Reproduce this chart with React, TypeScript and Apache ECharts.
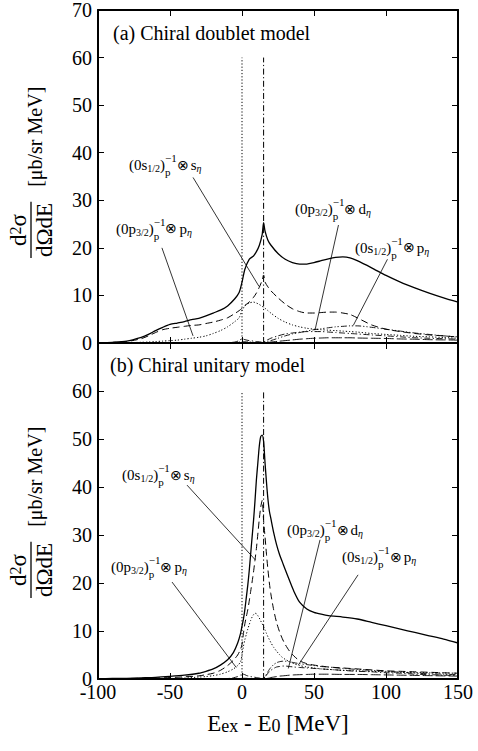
import React, { useEffect, useRef } from 'react';
import * as echarts from 'echarts';

const FONT = 'Liberation Serif';

// ---------- panel (a): chiral doublet model ----------
const EA = [-100, -90, -80, -70, -65, -60, -55, -50, -45, -40, -35, -30, -25, -20, -15, -10, -5, -2, 0, 2, 5, 8, 10, 12, 14, 15, 16, 18, 20, 25, 30, 35, 40, 45, 50, 55, 60, 65, 70, 75, 80, 90, 100, 110, 120, 130, 140, 150];
const aTotal = [0.05, 0.15, 0.4, 1.2, 1.8, 2.6, 3.3, 3.9, 4.2, 4.5, 4.9, 5.2, 5.7, 6.3, 6.9, 7.8, 9.3, 10.6, 12.8, 15.5, 17.6, 18.3, 19.2, 20.5, 22.8, 25.3, 23.5, 21.6, 20.6, 18.8, 17.6, 16.9, 16.6, 16.6, 16.9, 17.3, 17.7, 18.0, 18.1, 17.9, 17.3, 15.8, 14.2, 12.8, 11.6, 10.5, 9.5, 8.6];
const aS12sEta = [0, 0.1, 0.3, 0.9, 1.5, 2.2, 2.8, 3.1, 3.3, 3.5, 3.7, 3.8, 4.1, 4.4, 4.8, 5.3, 6.2, 6.8, 7.3, 7.9, 8.6, 9.6, 10.5, 11.7, 13.2, 14.3, 12.8, 11.8, 11.0, 9.5, 8.2, 7.2, 6.6, 6.3, 6.3, 6.4, 6.5, 6.5, 6.3, 6.0, 5.3, 3.8, 2.9, 2.4, 2.0, 1.7, 1.5, 1.25];
const aP32pEta = [0, 0, 0.05, 0.15, 0.2, 0.3, 0.4, 0.5, 0.6, 0.8, 1.0, 1.2, 1.5, 2.0, 2.6, 3.4, 4.5, 5.3, 6.8, 7.8, 8.4, 8.6, 8.4, 8.1, 7.7, 7.5, 7.3, 6.8, 6.3, 5.2, 4.4, 3.8, 3.4, 3.1, 2.9, 2.8, 2.7, 2.6, 2.5, 2.4, 2.3, 2.0, 1.8, 1.6, 1.4, 1.3, 1.15, 1.0];
const aP32dEta = [0, 0, 0, 0, 0, 0, 0, 0, 0, 0, 0, 0, 0, 0, 0.05, 0.1, 0.2, 0.5, 0.9, 0.7, 0.5, 0.4, 0.3, 0.25, 0.2, 0.2, 0.4, 0.7, 1.0, 1.5, 1.9, 2.1, 2.3, 2.4, 2.4, 2.4, 2.3, 2.2, 2.1, 2.0, 1.9, 1.7, 1.5, 1.3, 1.1, 1.0, 0.9, 0.8];
const aS12pEta = [0, 0, 0, 0, 0, 0, 0, 0, 0, 0, 0, 0, 0, 0, 0, 0.05, 0.1, 0.2, 0.3, 0.25, 0.2, 0.15, 0.15, 0.1, 0.1, 0.1, 0.2, 0.35, 0.5, 1.0, 1.5, 1.9, 2.2, 2.5, 2.8, 3.0, 3.2, 3.4, 3.5, 3.6, 3.6, 3.3, 2.9, 2.5, 2.1, 1.8, 1.5, 1.3];
const aOther = [0, 0, 0, 0, 0, 0, 0, 0, 0, 0, 0, 0, 0, 0, 0, 0, 0, 0, 0, 0, 0, 0, 0, 0, 0, 0, 0.05, 0.1, 0.2, 0.35, 0.5, 0.65, 0.8, 0.9, 1.0, 1.05, 1.1, 1.1, 1.1, 1.1, 1.05, 1.0, 0.95, 0.85, 0.8, 0.7, 0.65, 0.6];

// ---------- panel (b): chiral unitary model ----------
const EB = [-100, -90, -80, -70, -60, -50, -40, -30, -25, -20, -15, -10, -6, -3, -1, 0, 1, 2, 3, 4, 5, 6, 7, 8, 9, 10, 11, 12, 13, 14, 15, 16, 17, 18, 19, 20, 22, 24, 26, 28, 30, 33, 36, 40, 45, 50, 55, 60, 70, 80, 90, 100, 110, 120, 130, 140, 150];
const bTotal = [0.05, 0.1, 0.15, 0.25, 0.35, 0.55, 0.8, 1.2, 1.6, 2.1, 2.9, 4.0, 5.5, 7.5, 9.5, 11, 12.5, 14.5, 17, 19.5, 22.5, 26, 29.5, 33, 37, 41.5, 45, 48.5, 50.5, 50.8, 49.5, 45, 41, 37.5, 35, 33.5, 30.5, 28, 26, 24.4, 22.8, 20.5, 18.3, 16.0, 14.6, 13.9, 13.5, 13.2, 12.9, 12.5, 11.8, 11.1, 10.4, 9.7, 9.0, 8.3, 7.5];
const bS12sEta = [0, 0.05, 0.1, 0.15, 0.2, 0.3, 0.45, 0.65, 0.9, 1.2, 1.8, 2.8, 3.9, 5.0, 6.2, 7.2, 9.5, 11.5, 13, 14.4, 16.2, 18.2, 20.2, 22.3, 24.7, 27.2, 30.2, 33.3, 35.8, 37.2, 33, 29.6, 26, 22.8, 20, 17.8, 14.4, 11.8, 9.9, 8.4, 7.2, 5.8, 4.8, 3.8, 3.2, 2.9, 2.7, 2.5, 2.3, 2.1, 1.9, 1.7, 1.6, 1.5, 1.4, 1.3, 1.2];
const bP32pEta = [0, 0, 0, 0, 0.05, 0.1, 0.2, 0.4, 0.5, 0.7, 1.0, 1.5, 2.1, 2.8, 3.6, 5.0, 6.8, 8.2, 9.3, 10.4, 11.3, 12.2, 12.9, 13.4, 13.7, 13.6, 13.2, 12.7, 12.1, 11.5, 10.9, 10.2, 9.5, 8.8, 8.2, 7.6, 6.6, 5.8, 5.1, 4.5, 4.1, 3.6, 3.2, 2.8, 2.5, 2.3, 2.1, 2.0, 1.8, 1.7, 1.6, 1.5, 1.4, 1.35, 1.3, 1.25, 1.2];
const bP32dEta = [0, 0, 0, 0, 0, 0, 0, 0, 0, 0, 0.05, 0.1, 0.25, 0.5, 0.8, 1.2, 1.0, 0.9, 0.75, 0.65, 0.6, 0.5, 0.45, 0.4, 0.35, 0.3, 0.25, 0.2, 0.18, 0.15, 0.15, 0.5, 0.8, 1.2, 1.5, 1.8, 2.2, 2.5, 2.6, 2.7, 2.7, 2.6, 2.5, 2.4, 2.3, 2.2, 2.1, 2.0, 1.8, 1.6, 1.5, 1.3, 1.2, 1.0, 0.9, 0.8, 0.7];
const bS12pEta = [0, 0, 0, 0, 0, 0, 0, 0, 0, 0, 0, 0, 0, 0.05, 0.1, 0.15, 0.15, 0.15, 0.15, 0.12, 0.1, 0.1, 0.1, 0.1, 0.1, 0.1, 0.1, 0.1, 0.1, 0.1, 0.1, 0.5, 1.0, 1.5, 2.0, 2.4, 3.0, 3.4, 3.6, 3.7, 3.7, 3.6, 3.4, 3.2, 3.0, 2.8, 2.6, 2.5, 2.2, 2.0, 1.8, 1.6, 1.4, 1.2, 1.1, 1.0, 0.9];
const bOther = [0, 0, 0, 0, 0, 0, 0, 0, 0, 0, 0, 0, 0, 0, 0, 0, 0, 0, 0, 0, 0, 0, 0, 0, 0, 0, 0, 0, 0, 0, 0, 0.05, 0.1, 0.15, 0.2, 0.3, 0.4, 0.5, 0.6, 0.65, 0.7, 0.8, 0.85, 0.9, 0.95, 1.0, 1.0, 1.0, 0.95, 0.95, 0.9, 0.85, 0.8, 0.75, 0.7, 0.65, 0.6];

// thresholds (vertical lines) and their top value
const thresholds = [0, 15];
const thresholdTop = 60;

// axis
const xTicks = { min: -100, max: 150, interval: 50 };
const yTicks = { min: 0, max: 70, interval: 10 };

// annotations
type Ann = { core: string; j: string; eta: string; at: number[]; from: number[]; to: number[] };
const annA: Ann[] = [
  { core: 's', j: '1/2', eta: 's', at: [-78.5, 37.4], from: [-34, 34.8], to: [11.8, 11.9] },
  { core: 'p', j: '3/2', eta: 'p', at: [-87.5, 24], from: [-55.6, 20], to: [-34, 1.5] },
  { core: 'p', j: '3/2', eta: 'd', at: [36.8, 28.1], from: [67, 24.8], to: [50.7, 2.7] },
  { core: 's', j: '1/2', eta: 'p', at: [78.5, 20], from: [101, 17.6], to: [77.3, 3.7] },
];
const annB: Ann[] = [
  { core: 's', j: '1/2', eta: 's', at: [-83.3, 42.5], from: [-38.2, 40.4], to: [9.3, 24.8] },
  { core: 'p', j: '3/2', eta: 'p', at: [-91, 23.3], from: [-48.6, 20.2], to: [-4, 2.4] },
  { core: 'p', j: '3/2', eta: 'd', at: [31.3, 31], from: [54.2, 29], to: [32.2, 2.2] },
  { core: 's', j: '1/2', eta: 'p', at: [69.4, 25.4], from: [80.6, 21.7], to: [39.1, 2.9] },
];

const panelTitles = ['(a) Chiral doublet model', '(b) Chiral unitary model'];

const DASH = [7, 4];
const DOT = [1.2, 2];
const DASHDOT = [6, 2.5, 1.2, 2.5];
const DASHDOTDOT = [6, 2, 1.2, 2, 1.2, 2];
const LONGDASH = [10, 3];

export default function App() {
  const ref = useRef<HTMLDivElement>(null);
  useEffect(() => {
    const chart = echarts.init(ref.current!, null, { renderer: 'svg' });
    const cv = document.createElement('canvas').getContext('2d')!;
    const tw = (s: string, size: number, italic = false) => {
      cv.font = `${italic ? 'italic ' : ''}${size}px ${FONT}`;
      return cv.measureText(s).width;
    };

    const line = (xs: number[], ys: number[], gi: number, dash: any, width = 1) => ({
      type: 'line',
      xAxisIndex: gi * 2,
      yAxisIndex: gi * 2,
      data: xs.map((x, i) => [x, ys[i]]),
      symbol: 'none',
      smooth: 0.25,
      silent: true,
      lineStyle: { color: '#000', width, type: dash },
    });
    const seg = (p: number[], q: number[], gi: number, dash: any, width = 0.8) => ({
      type: 'line',
      xAxisIndex: gi * 2,
      yAxisIndex: gi * 2,
      data: [p, q],
      symbol: 'none',
      silent: true,
      lineStyle: { color: '#000', width, type: dash },
    });

    const series: any[] = [];
    const panels = [
      { xs: EA, t: aTotal, s: aS12sEta, p: aP32pEta, d: aP32dEta, sp: aS12pEta, o: aOther, ann: annA },
      { xs: EB, t: bTotal, s: bS12sEta, p: bP32pEta, d: bP32dEta, sp: bS12pEta, o: bOther, ann: annB },
    ];
    panels.forEach((P, gi) => {
      series.push(seg([thresholds[0], 0], [thresholds[0], thresholdTop], gi, DOT, 1));
      series.push(seg([thresholds[1], 0], [thresholds[1], thresholdTop], gi, DASHDOT, 1));
      series.push(line(P.xs, P.o, gi, LONGDASH, 0.9));
      series.push(line(P.xs, P.sp, gi, DASHDOTDOT, 0.9));
      series.push(line(P.xs, P.d, gi, DASHDOT, 0.9));
      series.push(line(P.xs, P.p, gi, DOT, 1));
      series.push(line(P.xs, P.s, gi, DASH, 1));
      series.push(line(P.xs, P.t, gi, 'solid', 1.3));
      P.ann.forEach((a) => series.push(seg(a.from, a.to, gi, 'solid', 0.8)));
    });

    const axisLine = { show: true, onZero: false, lineStyle: { color: '#000', width: 2 } };
    const tick = { show: true, inside: true, length: 6, lineStyle: { color: '#000', width: 1 } };
    const lbl = { color: '#000', fontFamily: FONT, fontSize: 20 };
    const xAxis: any[] = [];
    const yAxis: any[] = [];
    [0, 1].forEach((gi) => {
      ['bottom', 'top'].forEach((pos) => {
        xAxis.push({
          type: 'value', gridIndex: gi, position: pos, ...xTicks,
          axisLine, axisTick: tick, splitLine: { show: false },
          axisLabel: gi === 1 && pos === 'bottom' ? { ...lbl, margin: 6, lineHeight: 14 } : { show: false },
        });
      });
      ['left', 'right'].forEach((pos) => {
        yAxis.push({
          type: 'value', gridIndex: gi, position: pos, ...yTicks,
          axisLine, axisTick: tick, splitLine: { show: false },
          axisLabel: pos === 'left'
            ? { ...lbl, margin: 6, lineHeight: 12, formatter: (v: number) => (gi === 1 && v === 70 ? '' : String(v)) }
            : { show: false },
        });
      });
    });

    chart.setOption({
      animation: false,
      backgroundColor: '#fff',
      grid: [
        { left: 98, right: 20, top: 7, height: 336 },
        { left: 98, right: 20, top: 343, height: 336 },
      ],
      xAxis,
      yAxis,
      series,
    });

    const graphics: any[] = [];
    const txt = (text: string, x: number, y: number, size: number, italic = false, align = 'left') => ({
      type: 'text', x, y, silent: true,
      style: {
        text, fontSize: size, fontFamily: FONT, fontStyle: italic ? 'italic' : 'normal', fill: '#000',
        align, verticalAlign: 'middle', textAlign: align, textVerticalAlign: 'middle',
      },
    });

    const annot = (a: Ann, gi: number) => {
      const [px, py] = chart.convertToPixel({ gridIndex: gi } as any, a.at) as number[];
      const M = 15, S = 10, Q = 11, O = 14;
      let x = px;
      const head = '(0' + a.core;
      graphics.push(txt(head, x, py, M)); x += tw(head, M);
      graphics.push(txt(a.j, x, py + 3.5, S)); x += tw(a.j, S);
      graphics.push(txt(')', x, py, M)); x += tw(')', M);
      graphics.push(txt('p', x, py + 7, Q));
      graphics.push(txt('−1', x, py - 7, Q));
      x += Math.max(tw('p', Q), tw('−1', Q));
      graphics.push(txt('⊗', x, py, O)); x += tw('⊗', O) + 2;
      graphics.push(txt(a.eta, x, py, M)); x += tw(a.eta, M);
      graphics.push(txt('η', x, py + 3.5, S, true));
    };
    annA.forEach((a) => annot(a, 0));
    annB.forEach((a) => annot(a, 1));

    // panel titles
    const g0 = chart.convertToPixel({ gridIndex: 0 } as any, [-100, 70]) as number[];
    const g1 = chart.convertToPixel({ gridIndex: 1 } as any, [-100, 70]) as number[];
    graphics.push(txt(panelTitles[0], g0[0] + 15, g0[1] + 23, 20));
    graphics.push(txt(panelTitles[1], g1[0] + 12, g1[1] + 22, 20));

    // y axis titles (rotated fraction + unit)
    const yTitle = (ox: number, oy: number) => {
      const F = 23;
      const den = 'dΩdE';
      const wDen = tw(den, F);
      const wd = tw('d', F), w2 = tw('2', 16), ws = tw('σ', F);
      const nx = (wDen - (wd + w2 + ws)) / 2;
      return {
        type: 'group', x: ox, y: oy, rotation: Math.PI / 2,
        children: [
          txt('d', nx, -13, F),
          txt('2', nx + wd, -16, 16),
          txt('σ', nx + wd + w2, -13, F),
          { type: 'line', silent: true, shape: { x1: -1, y1: 0, x2: wDen + 1, y2: 0 }, style: { stroke: '#000', lineWidth: 1.3 } },
          txt(den, 0, 13, F),
          txt('[μb/sr MeV]', wDen + 16, 4, 20),
        ],
      };
    };
    graphics.push(yTitle(31, 257));
    graphics.push(yTitle(31, 597));

    // x axis title
    graphics.push({
      type: 'text', x: 278, y: 723, silent: true,
      style: {
        text: 'E{s|ex} - E{s|0} [MeV]',
        fontSize: 23, fontFamily: FONT, fill: '#000',
        align: 'center', verticalAlign: 'middle', textAlign: 'center', textVerticalAlign: 'middle',
        rich: { s: { fontSize: 18, fontFamily: FONT, fill: '#000', padding: [6, 0, 0, 0] } },
      },
    });

    chart.setOption({ graphic: graphics });
    return () => chart.dispose();
  }, []);
  return <div ref={ref} style={{ position: 'absolute', left: 0, top: 0, width: 478, height: 751 }} />;
}
